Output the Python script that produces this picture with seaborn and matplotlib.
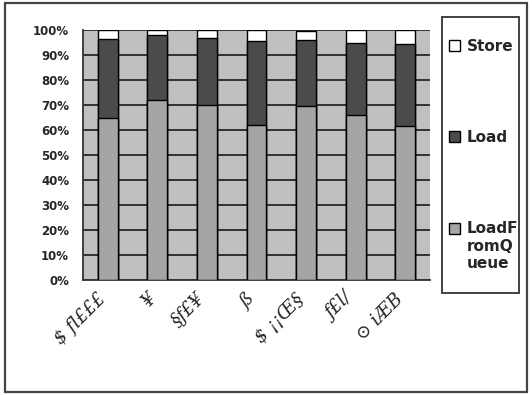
import numpy as np
import pandas as pd
import matplotlib
matplotlib.use("Agg")
import matplotlib.pyplot as plt
import seaborn as sns
from matplotlib.patches import Rectangle
from matplotlib.legend_handler import HandlerPatch
import matplotlib.transforms as mtransforms

# ---- data ----
categories = ["$ fl£££", "¥", "§ƒ£¥", "ß", "$ ¡¡Œ§", "ƒ£l/", "⊙ iÆB"]
load_from_queue = [65, 72, 70, 62, 69.5, 66, 61.5]
load = [31.5, 26, 27, 33.5, 26.5, 29, 33]
store = [3.5, 2, 3, 4.5, 3.5, 5, 5.5]
series_names = ["Store", "Load", "LoadF\nromQ\nueue"]
ytick_values = list(range(0, 101, 10))

sns.set_style("white")
plt.rcParams["font.family"] = ["DejaVu Sans"]

df = pd.DataFrame({
    "cat": categories,
    "lfq": load_from_queue,
    "load": load,
    "store": store,
})
df["c_lfq"] = df["lfq"]
df["c_load"] = df["lfq"] + df["load"]
df["c_store"] = df["c_load"] + df["store"]

W, H = 532, 395
fig = plt.figure(figsize=(W / 100, H / 100), dpi=100)
ax = fig.add_axes([83 / W, 1 - 280 / H, (430 - 83) / W, (280 - 30) / H])
ax.set_facecolor("#c0c0c0")

c_store, c_load, c_lfq = "#ffffff", "#4b4b4b", "#a5a5a5"
for col, color in [("c_store", c_store), ("c_load", c_load), ("c_lfq", c_lfq)]:
    sns.barplot(data=df, x="cat", y=col, color=color, width=0.4,
                edgecolor="black", linewidth=1.0, saturation=1, ax=ax, zorder=3)

ax.set_ylim(0, 100)
ax.set_xlim(-0.5, len(categories) - 0.5)
ax.set_yticks(ytick_values)
ax.set_yticklabels([f"{v}%" for v in ytick_values], fontsize=8.5, fontweight="bold")
ax.yaxis.grid(True, color="#1a1a1a", linewidth=1.2, zorder=1)
ax.xaxis.grid(False)
ax.set_axisbelow(True)
ax.set_xlabel("")
ax.set_ylabel("")

for s in ["top", "right"]:
    ax.spines[s].set_visible(False)
for s in ["left", "bottom"]:
    ax.spines[s].set_color("#333333")
    ax.spines[s].set_linewidth(1.3)

ax.tick_params(axis="y", which="major", direction="out", length=4, width=1,
               color="#333333", pad=6)
ax.set_xticks(np.arange(len(categories)))
ax.set_xticks(np.arange(-0.5, len(categories), 1.0), minor=True)
ax.tick_params(axis="x", which="major", length=0, pad=12)
ax.tick_params(axis="x", which="minor", direction="in", length=4, width=1, color="#333333")

offset = mtransforms.ScaledTranslation(-5 / 100, 0, fig.dpi_scale_trans)
ax.set_xticklabels(categories)
for lab in ax.get_xticklabels():
    lab.set_rotation(45)
    lab.set_ha("right")
    lab.set_va("center")
    lab.set_rotation_mode("anchor")
    lab.set_fontfamily(["DejaVu Serif", "DejaVu Sans"])
    lab.set_fontstyle("italic")
    lab.set_fontsize(13)
    lab.set_transform(lab.get_transform() + offset)

# legend
handles = [Rectangle((0, 0), 1, 1, facecolor=c, edgecolor="black", linewidth=1)
           for c in (c_store, c_load, c_lfq)]


def shifted_patch(shift):
    def f(legend, orig_handle, xdescent, ydescent, width, height, fontsize):
        return Rectangle((-xdescent, -ydescent + shift), width, height)
    return f


handler_map = {handles[2]: HandlerPatch(patch_func=shifted_patch(11 * 1.2))}

leg = fig.legend(handles, series_names, loc="upper left",
                 bbox_to_anchor=(441 / W, 1 - 31 / H), frameon=False,
                 borderpad=0, labelspacing=5.0, handlelength=0.75,
                 handleheight=0.75, handletextpad=0.45,
                 prop={"weight": "bold", "size": 11}, handler_map=handler_map)

# legend box
fig.patches.append(Rectangle((442 / W, 1 - 293 / H), (519 - 442) / W, (293 - 17) / H,
                             transform=fig.transFigure, fill=False,
                             edgecolor="#333333", linewidth=1.3))
# outer border
fig.patches.append(Rectangle((5 / W, 3 / H), 522 / W, 389 / H,
                             transform=fig.transFigure, fill=False,
                             edgecolor="#444444", linewidth=1.6))

fig.savefig("out.png", dpi=100, facecolor="white")
